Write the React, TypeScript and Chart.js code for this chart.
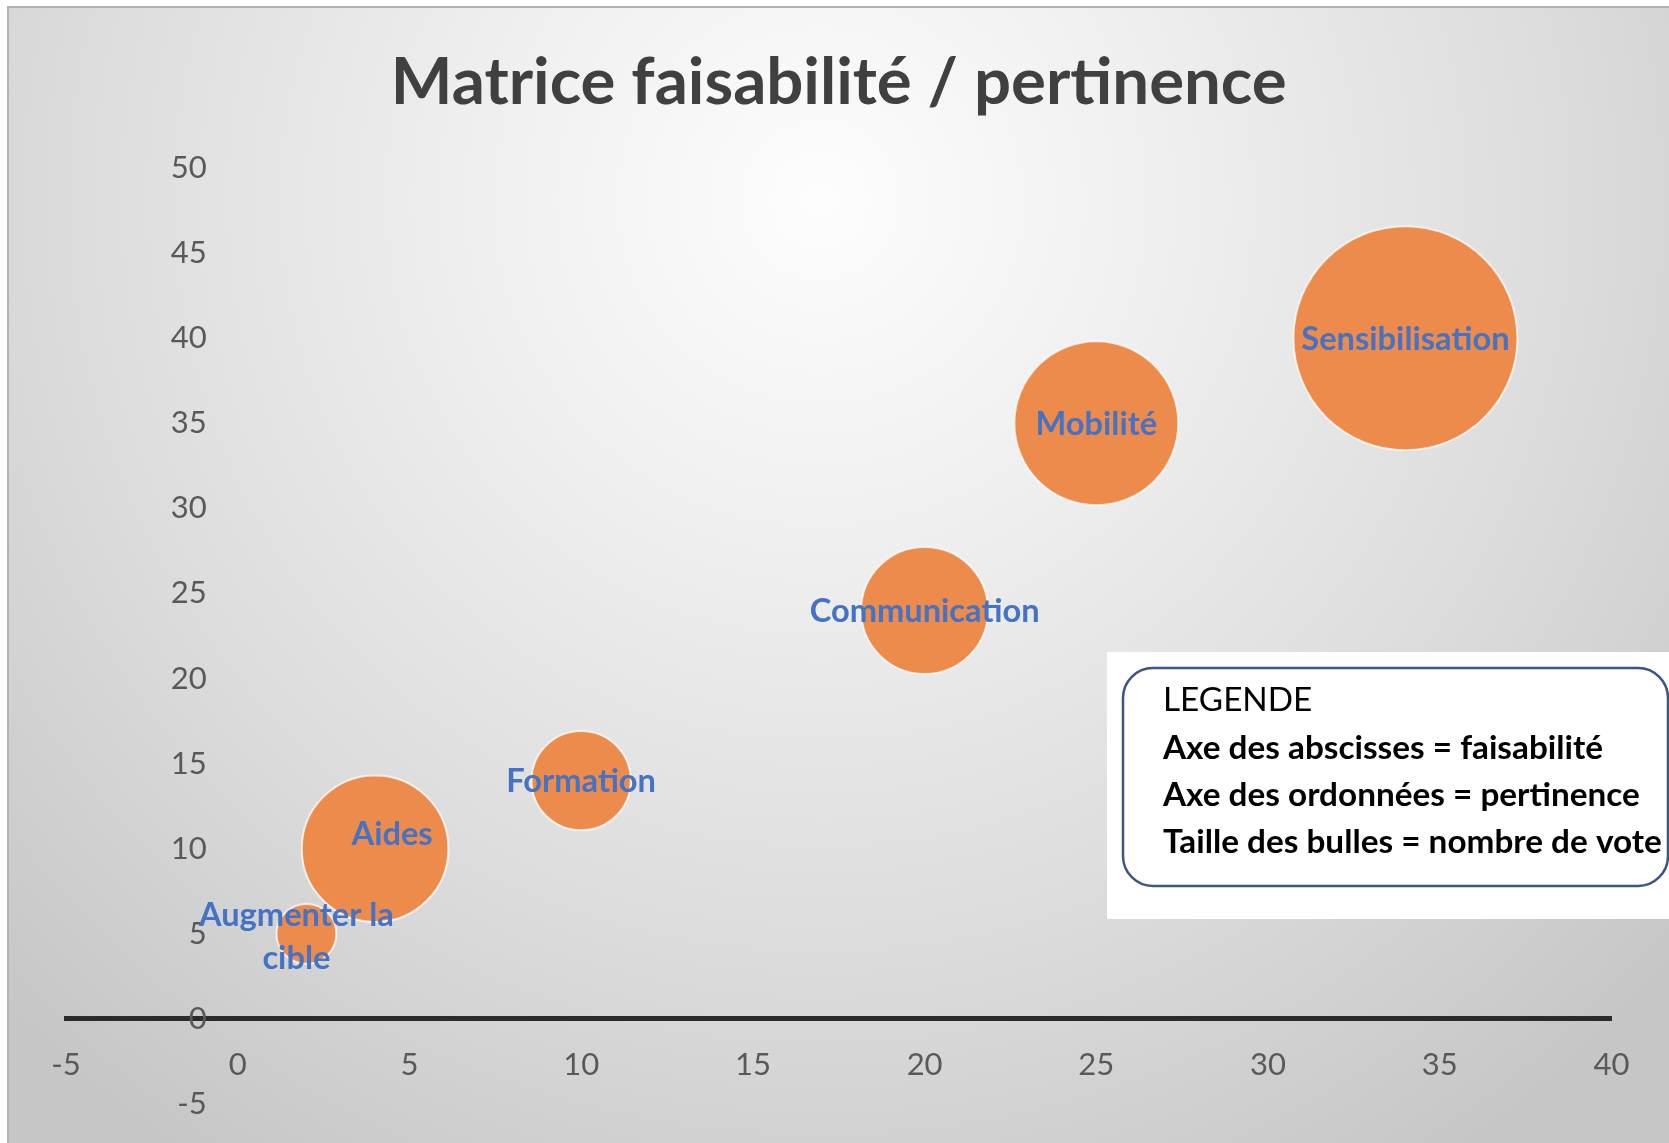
import React, { useEffect, useRef } from 'react';
import { Chart, registerables } from 'chart.js';

Chart.register(...registerables);

// ---- Data ----
const chartTitle = 'Matrice faisabilité / pertinence';
const ideas = ['Augmenter la cible', 'Aides', 'Formation', 'Communication', 'Mobilité', 'Sensibilisation'];
const faisabilite = [2, 4, 10, 20, 25, 34];
const pertinence = [5, 10, 14, 24, 35, 40];
const votes = [2, 12, 5.5, 9, 15, 28];
const xRange = [-5, 40];
const yRange = [-5, 50];
const tickStep = 5;
const legendLines = [
  'LEGENDE',
  'Axe des abscisses = faisabilité',
  'Axe des ordonnées = pertinence',
  'Taille des bulles = nombre de vote',
];

const W = 1669;
const H = 1143;
const FONT = 'Lato';

function fitSize(text: string, weight: string, target: number): number {
  const c = document.createElement('canvas').getContext('2d')!;
  c.font = `${weight} 100px ${FONT}`;
  return (100 * target) / c.measureText(text).width;
}

export default function App() {
  const ref = useRef<HTMLCanvasElement | null>(null);

  useEffect(() => {
    const canvas = ref.current;
    if (!canvas) return;

    const titleSize = fitSize(chartTitle, 'bold', 896);
    const labelSize = fitSize('Communication', 'bold', 230);
    const legendSize = fitSize(legendLines[3], 'bold', 499);
    const maxVote = Math.max(...votes);
    const maxR = 112;

    const background = {
      id: 'bg',
      beforeDraw(chart: any) {
        const ctx = chart.ctx;
        ctx.save();
        ctx.fillStyle = '#ffffff';
        ctx.fillRect(0, 0, W, H);
        const g = ctx.createRadialGradient(820, 200, 0, 820, 200, 1150);
        g.addColorStop(0, '#fdfdfd');
        g.addColorStop(0.3, '#efefef');
        g.addColorStop(0.65, '#dcdcdc');
        g.addColorStop(1, '#c6c6c6');
        ctx.fillStyle = g;
        ctx.fillRect(7, 6, W - 7, H - 6);
        ctx.strokeStyle = '#b2b2b2';
        ctx.lineWidth = 2;
        ctx.beginPath();
        ctx.moveTo(8, H);
        ctx.lineTo(8, 7);
        ctx.lineTo(W, 7);
        ctx.stroke();
        ctx.restore();
      },
    };

    const labelOffsets: Record<string, [number, number]> = {
      'Augmenter la cible': [-10, 2],
      Aides: [17, -15],
    };

    const bubbleLabels = {
      id: 'bubbleLabels',
      afterDatasetsDraw(chart: any) {
        const ctx = chart.ctx;
        const meta = chart.getDatasetMeta(0);
        ctx.save();
        ctx.font = `bold ${labelSize}px ${FONT}`;
        ctx.fillStyle = '#4472C4';
        ctx.textAlign = 'center';
        ctx.textBaseline = 'middle';
        meta.data.forEach((el: any, i: number) => {
          const name = ideas[i];
          const words = name.split(' ');
          const lines: string[] = [];
          let cur = '';
          words.forEach((w) => {
            const t = cur ? cur + ' ' + w : w;
            if (cur && ctx.measureText(t).width > 215) {
              lines.push(cur);
              cur = w;
            } else cur = t;
          });
          lines.push(cur);
          const off = labelOffsets[name] || [0, 0];
          const lh = labelSize * 1.3;
          const startY = el.y + off[1] + 1 - ((lines.length - 1) * lh) / 2;
          lines.forEach((ln, k) => ctx.fillText(ln, el.x + off[0], startY + k * lh));
        });
        ctx.restore();
      },
    };

    const legendBox = {
      id: 'legendBox',
      afterDraw(chart: any) {
        const ctx = chart.ctx;
        ctx.save();
        ctx.fillStyle = '#ffffff';
        ctx.fillRect(1107, 652, W - 1107, 919 - 652);
        ctx.strokeStyle = '#3A5683';
        ctx.lineWidth = 2.5;
        ctx.beginPath();
        ctx.roundRect(1123, 668, 1668 - 1123, 886 - 668, 30);
        ctx.stroke();
        ctx.fillStyle = '#000000';
        ctx.textAlign = 'left';
        ctx.textBaseline = 'alphabetic';
        const baselines = [711, 759, 806, 853];
        legendLines.forEach((t, i) => {
          ctx.font = `${i === 0 ? 'normal' : 'bold'} ${legendSize}px ${FONT}`;
          ctx.fillText(t, 1163, baselines[i]);
        });
        ctx.restore();
      },
    };

    const tickFont = { family: FONT, size: 31 };
    const titleCenter = 83;

    const chart = new Chart(canvas, {
      type: 'bubble',
      data: {
        datasets: [
          {
            label: 'Idées',
            data: ideas.map((_, i) => ({
              x: faisabilite[i],
              y: pertinence[i],
              r: maxR * Math.sqrt(votes[i] / maxVote),
            })),
            backgroundColor: '#EC8B4C',
            borderColor: 'rgba(255,255,255,0.75)',
            borderWidth: 2,
          },
        ],
      },
      options: {
        responsive: false,
        animation: false,
        events: [],
        layout: { autoPadding: false, padding: { left: 66, right: 57.5, bottom: 39, top: 0 } },
        plugins: {
          legend: { display: false },
          tooltip: { enabled: false },
          title: {
            display: true,
            text: chartTitle,
            color: '#404040',
            font: { family: FONT, weight: 'bold', size: titleSize, lineHeight: 1.2 },
            padding: { top: titleCenter - 0.6 * titleSize, bottom: 168 - titleCenter - 0.6 * titleSize },
          },
        },
        scales: {
          x: {
            type: 'linear',
            min: xRange[0],
            max: xRange[1],
            position: { y: 0 } as any,
            grid: { display: false, drawTicks: false },
            border: { display: true, color: '#2b2b2b', width: 5 },
            ticks: { stepSize: tickStep, font: tickFont, color: '#595959', padding: 27 },
          },
          y: {
            type: 'linear',
            min: yRange[0],
            max: yRange[1],
            position: { x: -0.9 } as any,
            grid: { display: false, drawTicks: false },
            border: { display: false },
            ticks: { stepSize: tickStep, font: tickFont, color: '#595959', padding: 0 },
          },
        },
      },
      plugins: [background, bubbleLabels, legendBox],
    });

    return () => chart.destroy();
  }, []);

  return (
    <div style={{ position: 'absolute', left: 0, top: 0, width: W, height: H }}>
      <canvas ref={ref} width={W} height={H} style={{ display: 'block' }} />
    </div>
  );
}
